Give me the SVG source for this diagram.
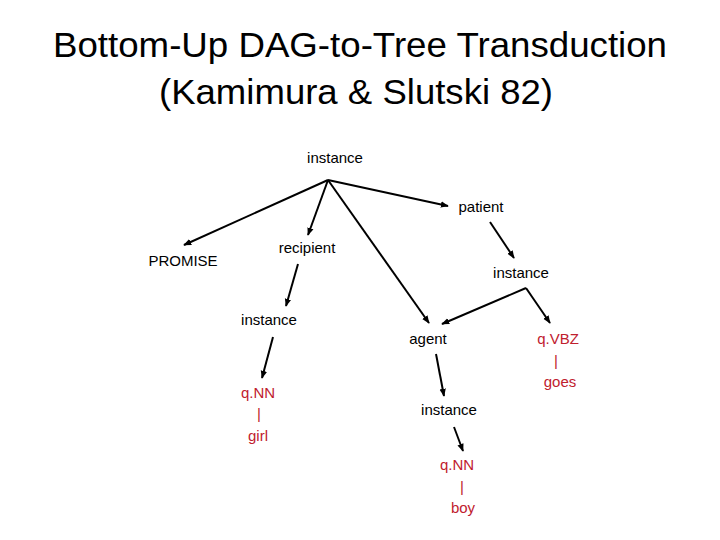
<svg xmlns="http://www.w3.org/2000/svg" width="720" height="540" viewBox="0 0 720 540">
<defs>
<marker id="ah" viewBox="0 0 10 10" refX="9" refY="5" markerWidth="4" markerHeight="4" markerUnits="strokeWidth" orient="auto">
<path d="M0,1 L10,5 L0,9 z" fill="#000"/>
</marker>
<style>
.t{font-family:"Liberation Sans",Arial,sans-serif;font-size:15px;fill:#000;text-anchor:middle}
.r{font-family:"Liberation Sans",Arial,sans-serif;font-size:15px;fill:#c0202e;text-anchor:middle}
.h{font-family:"Liberation Sans",Arial,sans-serif;font-size:35px;fill:#000;text-anchor:middle}
.e{stroke:#000;stroke-width:2;fill:none;marker-end:url(#ah)}
</style>
</defs>
<rect width="720" height="540" fill="#fff"/>
<g id="title">
<text class="h" x="360" y="57" textLength="614" lengthAdjust="spacingAndGlyphs">Bottom-Up DAG-to-Tree Transduction</text>
<text class="h" x="356" y="104" textLength="394" lengthAdjust="spacingAndGlyphs">(Kamimura &amp; Slutski 82)</text>
</g>
<g id="connectors">
<line class="e" x1="328" y1="180" x2="184" y2="245"/>
<line class="e" x1="328" y1="180" x2="308" y2="235"/>
<line class="e" x1="328" y1="180" x2="429" y2="323"/>
<line class="e" x1="328" y1="180" x2="448" y2="206"/>
<line class="e" x1="490" y1="222" x2="514" y2="258"/>
<line class="e" x1="526" y1="288" x2="442" y2="324"/>
<line class="e" x1="526" y1="288" x2="550" y2="323"/>
<line class="e" x1="298" y1="264" x2="286" y2="306"/>
<line class="e" x1="273" y1="337" x2="262" y2="378"/>
<line class="e" x1="436" y1="354" x2="444" y2="396"/>
<line class="e" x1="454" y1="427" x2="463" y2="451"/>
</g>
<g id="n-root"><text class="t" x="335" y="163">instance</text></g>
<g id="n-patient"><text class="t" x="481" y="212">patient</text></g>
<g id="n-recipient"><text class="t" x="307" y="253">recipient</text></g>
<g id="n-promise"><text class="t" x="183" y="266">PROMISE</text></g>
<g id="n-instance-r"><text class="t" x="521" y="278">instance</text></g>
<g id="n-instance-l"><text class="t" x="269" y="325">instance</text></g>
<g id="n-agent"><text class="t" x="428" y="344">agent</text></g>
<g id="n-qvbz"><text class="r" x="558" y="344">q.VBZ</text><text class="r" x="556" y="366">|</text><text class="r" x="560" y="387">goes</text></g>
<g id="n-qnn-girl"><text class="r" x="258" y="398">q.NN</text><text class="r" x="259" y="419">|</text><text class="r" x="258" y="441">girl</text></g>
<g id="n-instance-a"><text class="t" x="449" y="415">instance</text></g>
<g id="n-qnn-boy"><text class="r" x="457" y="470">q.NN</text><text class="r" x="462" y="492">|</text><text class="r" x="463" y="513">boy</text></g>
</svg>
